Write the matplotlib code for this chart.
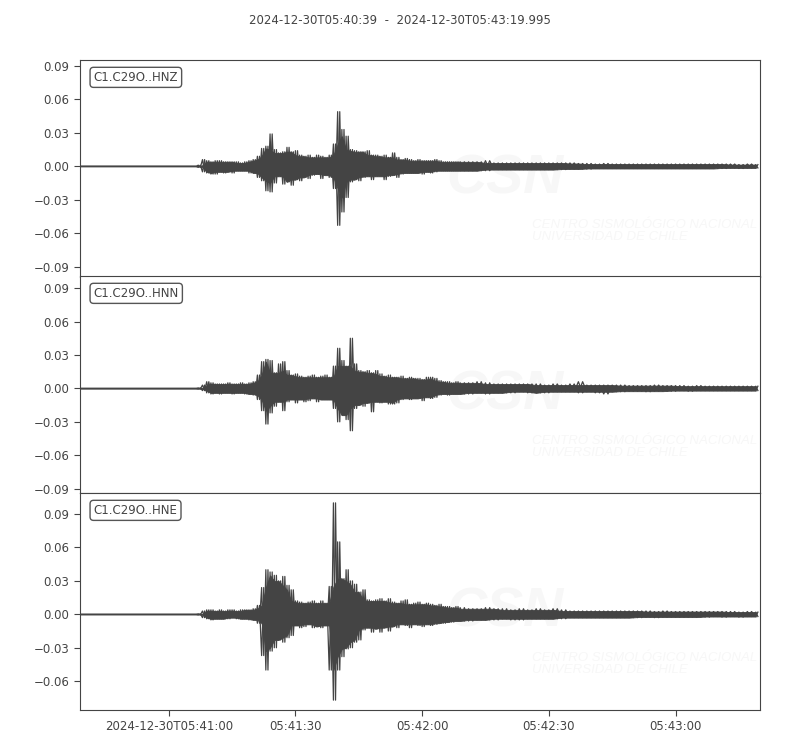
import numpy as np
import matplotlib
matplotlib.use("Agg")
import matplotlib.pyplot as plt
import matplotlib.dates as mdates
from matplotlib.ticker import MultipleLocator, FuncFormatter
from datetime import datetime

# start of the record and its length (s)
t_start = datetime(2024, 12, 30, 5, 40, 39)
duration = 160.995
title = "2024-12-30T05:40:39  -  2024-12-30T05:43:19.995"
channels = ["C1.C29O..HNZ", "C1.C29O..HNN", "C1.C29O..HNE"]

t_sec = [0, 27] + list(range(28, 91)) + list(range(92, 161, 2))

# upper / lower envelope of each trace (m/s^2)
hnz_hi = [0, 0,
          0.001, 0.006, 0.005, 0.004, 0.005, 0.005, 0.004, 0.004, 0.004, 0.004,
          0.003, 0.004, 0.005, 0.006, 0.009, 0.016, 0.018, 0.029, 0.015, 0.012,
          0.013, 0.017, 0.013, 0.014, 0.010, 0.009, 0.010, 0.008, 0.010, 0.009,
          0.008, 0.010, 0.020, 0.049, 0.033, 0.027, 0.015, 0.014, 0.013, 0.013,
          0.014, 0.010, 0.010, 0.009, 0.010, 0.008, 0.012, 0.008, 0.006, 0.007,
          0.006, 0.005, 0.006, 0.005, 0.005, 0.005, 0.006, 0.005, 0.004, 0.004,
          0.004, 0.004, 0.004,
          0.004, 0.004, 0.005, 0.003, 0.003, 0.003, 0.003, 0.003, 0.003, 0.003,
          0.003, 0.003, 0.003, 0.0025, 0.0025, 0.002, 0.0025, 0.002, 0.002, 0.002,
          0.002, 0.002, 0.002, 0.002, 0.002, 0.002, 0.002, 0.002, 0.002, 0.002,
          0.002, 0.002, 0.0015, 0.002, 0.0015]
hnz_lo = [0, 0,
          -0.001, -0.005, -0.006, -0.007, -0.007, -0.005, -0.006, -0.005, -0.006, -0.004,
          -0.004, -0.004, -0.006, -0.006, -0.010, -0.013, -0.022, -0.023, -0.015, -0.009,
          -0.016, -0.014, -0.017, -0.012, -0.013, -0.010, -0.011, -0.008, -0.007, -0.011,
          -0.008, -0.010, -0.020, -0.053, -0.041, -0.028, -0.014, -0.012, -0.013, -0.010,
          -0.009, -0.012, -0.009, -0.009, -0.012, -0.009, -0.008, -0.010, -0.007, -0.006,
          -0.006, -0.006, -0.006, -0.007, -0.005, -0.006, -0.005, -0.004, -0.004, -0.004,
          -0.004, -0.004, -0.004,
          -0.004, -0.004, -0.004, -0.003, -0.003, -0.003, -0.003, -0.003, -0.003, -0.003,
          -0.003, -0.003, -0.0025, -0.0025, -0.0025, -0.002, -0.002, -0.002, -0.002, -0.002,
          -0.002, -0.002, -0.002, -0.002, -0.002, -0.002, -0.002, -0.002, -0.002, -0.002,
          -0.002, -0.0015, -0.002, -0.0015, -0.0015]

hnn_hi = [0, 0,
          0.0005, 0.003, 0.006, 0.005, 0.004, 0.004, 0.004, 0.005, 0.004, 0.004,
          0.005, 0.004, 0.005, 0.006, 0.012, 0.024, 0.026, 0.025, 0.014, 0.022,
          0.024, 0.016, 0.012, 0.013, 0.011, 0.010, 0.011, 0.012, 0.010, 0.011,
          0.012, 0.010, 0.020, 0.036, 0.025, 0.020, 0.045, 0.022, 0.016, 0.015,
          0.016, 0.014, 0.016, 0.013, 0.011, 0.012, 0.010, 0.010, 0.011, 0.009,
          0.010, 0.009, 0.009, 0.008, 0.010, 0.010, 0.009, 0.007, 0.006, 0.006,
          0.005, 0.006, 0.005,
          0.005, 0.006, 0.005, 0.004, 0.004, 0.004, 0.004, 0.004, 0.004, 0.003,
          0.004, 0.003, 0.004, 0.006, 0.003, 0.003, 0.003, 0.003, 0.003, 0.0025,
          0.0025, 0.0025, 0.003, 0.0025, 0.0025, 0.0025, 0.002, 0.0025, 0.002, 0.002,
          0.002, 0.002, 0.002, 0.002, 0.002]
hnn_lo = [0, 0,
          -0.0005, -0.002, -0.004, -0.005, -0.004, -0.005, -0.004, -0.004, -0.005, -0.004,
          -0.004, -0.005, -0.005, -0.006, -0.010, -0.020, -0.032, -0.022, -0.016, -0.012,
          -0.020, -0.012, -0.010, -0.013, -0.010, -0.012, -0.011, -0.009, -0.012, -0.010,
          -0.010, -0.010, -0.018, -0.030, -0.024, -0.028, -0.038, -0.018, -0.015, -0.016,
          -0.013, -0.021, -0.012, -0.013, -0.012, -0.014, -0.014, -0.013, -0.010, -0.009,
          -0.010, -0.009, -0.009, -0.011, -0.008, -0.009, -0.008, -0.006, -0.005, -0.006,
          -0.005, -0.005, -0.005,
          -0.005, -0.004, -0.005, -0.004, -0.004, -0.004, -0.003, -0.004, -0.004, -0.004,
          -0.003, -0.003, -0.003, -0.004, -0.003, -0.004, -0.005, -0.003, -0.003, -0.0025,
          -0.0025, -0.003, -0.0025, -0.0025, -0.0025, -0.002, -0.0025, -0.002, -0.002, -0.002,
          -0.002, -0.002, -0.002, -0.002, -0.002]

hne_hi = [0, 0,
          0.0005, 0.003, 0.004, 0.004, 0.003, 0.004, 0.003, 0.004, 0.004, 0.003,
          0.004, 0.004, 0.004, 0.005, 0.008, 0.024, 0.040, 0.038, 0.035, 0.030,
          0.034, 0.026, 0.022, 0.012, 0.011, 0.010, 0.011, 0.012, 0.010, 0.012,
          0.010, 0.025, 0.100, 0.065, 0.032, 0.040, 0.030, 0.027, 0.020, 0.022,
          0.013, 0.012, 0.013, 0.014, 0.012, 0.014, 0.011, 0.010, 0.012, 0.013,
          0.009, 0.010, 0.011, 0.009, 0.010, 0.009, 0.008, 0.009, 0.007, 0.007,
          0.006, 0.007, 0.006,
          0.005, 0.005, 0.006, 0.005, 0.005, 0.004, 0.005, 0.004, 0.005, 0.004,
          0.005, 0.004, 0.003, 0.003, 0.003, 0.003, 0.003, 0.003, 0.003, 0.003,
          0.003, 0.003, 0.0025, 0.003, 0.0025, 0.0025, 0.0025, 0.0025, 0.0025, 0.0025,
          0.0025, 0.0025, 0.002, 0.0025, 0.002]
hne_lo = [0, 0,
          -0.0005, -0.003, -0.004, -0.005, -0.004, -0.004, -0.004, -0.004, -0.003, -0.004,
          -0.004, -0.004, -0.005, -0.005, -0.008, -0.037, -0.050, -0.033, -0.030, -0.023,
          -0.025, -0.021, -0.019, -0.010, -0.012, -0.011, -0.009, -0.012, -0.011, -0.012,
          -0.010, -0.050, -0.077, -0.050, -0.038, -0.031, -0.030, -0.025, -0.023, -0.014,
          -0.012, -0.016, -0.013, -0.016, -0.012, -0.015, -0.011, -0.012, -0.009, -0.010,
          -0.012, -0.009, -0.010, -0.011, -0.009, -0.010, -0.009, -0.008, -0.008, -0.007,
          -0.007, -0.006, -0.006,
          -0.006, -0.005, -0.005, -0.005, -0.004, -0.005, -0.005, -0.004, -0.004, -0.004,
          -0.004, -0.004, -0.003, -0.003, -0.003, -0.003, -0.003, -0.003, -0.003, -0.003,
          -0.003, -0.0025, -0.003, -0.0025, -0.0025, -0.0025, -0.0025, -0.0025, -0.0025, -0.002,
          -0.0025, -0.002, -0.0025, -0.002, -0.002]

his = [hnz_hi, hnn_hi, hne_hi]
los = [hnz_lo, hnn_lo, hne_lo]

grey = "#444444"
plt.rcParams["font.family"] = ["DejaVu Sans"]
plt.rcParams["font.size"] = 8

fig = plt.figure(figsize=(8, 7.5), dpi=100)
fig.text(0.5, 0.973, title, ha="center", va="center", color=grey, fontsize=8.5)

t0 = mdates.date2num(t_start)
ts = np.array(t_sec, dtype=float)
xd = t0 + ts / 86400.0
half = np.diff(np.append(ts, ts[-1] + 1.0)) / 2.0

# common y range like obspy equal_scale
span = max(max(h) - min(l) for h, l in zip(his, los)) * 1.1


def fmt_time(x, pos):
    d = mdates.num2date(x)
    if x - t0 < 30 / 86400.0:
        return d.strftime("%Y-%m-%dT%H:%M:%S")
    return d.strftime("%H:%M:%S")


def fmt_y(v, pos):
    s = "%.2f" % v
    if s == "-0.00":
        s = "0.00"
    return s.replace("-", "\u2212")


def zigzag(a, b):
    # a at the bin time, b half a bin later
    x = np.empty(2 * len(ts))
    y = np.empty(2 * len(ts))
    x[0::2] = ts
    x[1::2] = ts + half
    y[0::2] = a
    y[1::2] = b
    return t0 + x / 86400.0, y


def core(v, f):
    # smallest excursion among each bin and its neighbours
    p = np.concatenate([v[:1], v, v[-1:]])
    return f(f(p[:-2], p[1:-1]), p[2:])


bottoms = [1 - 277 / 750.0, 1 - 493 / 750.0, 1 - 710 / 750.0]
axes = []
for i in range(3):
    ax = fig.add_axes([0.1, bottoms[i], 0.85, 217 / 750.0])
    hi = np.array(his[i])
    lo = np.array(los[i])
    # dense body of the trace
    ax.fill_between(xd, core(lo, np.maximum), core(hi, np.minimum),
                    facecolor=grey, edgecolor=grey, lw=0.6, zorder=3)
    # two crossing zig-zags between the min and max of every bin
    x1, y1 = zigzag(hi, lo)
    x2, y2 = zigzag(lo, hi)
    ax.plot(x1, y1, color=grey, lw=0.9, zorder=3)
    ax.plot(x2, y2, color=grey, lw=0.9, zorder=3)

    mid = (hi.max() + lo.min()) / 2.0
    ax.set_ylim(mid - span / 2, mid + span / 2)
    ax.set_xlim(t0, t0 + duration / 86400.0)
    ax.yaxis.set_major_locator(MultipleLocator(0.03))
    ax.yaxis.set_major_formatter(FuncFormatter(fmt_y))
    ax.xaxis.set_major_locator(mdates.SecondLocator(bysecond=[0, 30]))
    ax.xaxis.set_major_formatter(FuncFormatter(fmt_time))
    for s in ax.spines.values():
        s.set_color(grey)
    ax.tick_params(colors=grey, labelcolor=grey, labelsize=8.5, length=4)
    if i < 2:
        ax.tick_params(axis="x", bottom=False, labelbottom=False)

    ax.text(0.02, 0.95, channels[i], transform=ax.transAxes, ha="left", va="top",
            color=grey, fontsize=8.5, zorder=5,
            bbox=dict(boxstyle="round,pad=0.3", fc="white", ec="#555555", lw=1))

    # faint CSN watermark
    ax.text(0.625, 0.45, "CSN", transform=ax.transAxes, ha="center", va="center",
            fontsize=40, fontweight="bold", style="italic", color="#f7f7f7", zorder=1,
            family=["Liberation Sans", "DejaVu Sans"])
    ax.text(0.665, 0.21, "CENTRO SISMOLÓGICO NACIONAL\nUNIVERSIDAD DE CHILE",
            transform=ax.transAxes, ha="left", va="center", fontsize=9.5,
            style="italic", color="#f7f7f7", linespacing=1.0, zorder=1,
            family=["Liberation Sans", "DejaVu Sans"], clip_on=True)
    axes.append(ax)

fig.savefig("out.png", dpi=100)
